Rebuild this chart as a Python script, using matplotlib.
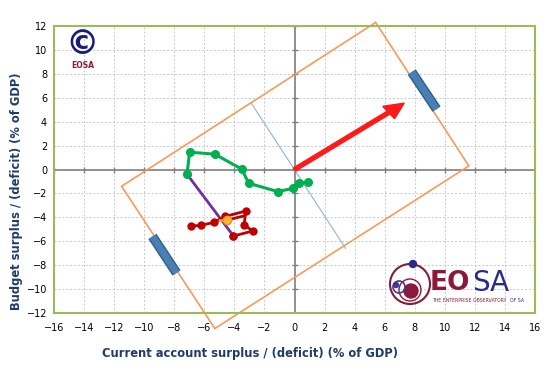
import numpy as np
import matplotlib
matplotlib.use("Agg")
import matplotlib.pyplot as plt
from matplotlib.patches import Circle, Polygon, FancyArrow

# data
red_x = [-6.91, -6.25, -5.36, -4.62, -3.24, -3.35, -2.79, -4.06]
red_y = [-4.72, -4.68, -4.42, -3.93, -3.47, -4.60, -5.15, -5.56]
red2_x = [-4.46, -3.35]
red2_y = [-4.22, -3.88]
orange_x = [-4.95, -4.46]
orange_y = [-4.28, -4.22]
purple_x = [-7.15, -4.06]
purple_y = [-0.40, -5.56]
green_x = [-7.15, -6.98, -5.29, -3.50, -3.05, -1.10, -0.10, 0.30, 0.90]
green_y = [-0.40, 1.45, 1.28, 0.02, -1.15, -1.85, -1.57, -1.10, -1.07]
arrow_end = (7.3, 5.55)
rect_x = [5.4, 11.6, -5.3, -11.5]
rect_y = [12.3, 0.3, -13.3, -1.4]
bar1_x, bar1_y = [7.8, 9.45], [8.15, 5.05]
bar2_x, bar2_y = [-9.45, -7.85], [-5.6, -8.65]
axisline_x, axisline_y = [-2.9, 3.4], [5.6, -6.6]
ticks = np.arange(-16, 17, 2)
yticks = np.arange(-12, 13, 2)

fig = plt.figure(figsize=(5.55, 3.8), dpi=100)
ax = fig.add_axes([54/555, 1-313/380, 481/555, 287/380])
ax.set_xlim(-16, 16)
ax.set_ylim(-12, 12)
ax.set_xticks(ticks)
ax.set_yticks(yticks)
ax.tick_params(length=0, labelsize=7, colors='black')
ax.tick_params(axis='x', pad=7)
ax.tick_params(axis='y', pad=5)
for s in ax.spines.values():
    s.set_color('#9BBB59')
    s.set_linewidth(1.5)
ax.grid(True, color='#C8C8C8', linestyle=(0, (2, 2)), linewidth=0.7)
ax.set_axisbelow(True)

# zero axes with tick marks
ax.axhline(0, color='#808080', lw=1.2, zorder=1)
ax.axvline(0, color='#808080', lw=1.2, zorder=1)
ax.plot(ticks, np.zeros_like(ticks), ls='none', marker='|', ms=5, color='#808080', zorder=1)
ax.plot(np.zeros_like(yticks), yticks, ls='none', marker='_', ms=5, color='#808080', zorder=1)

# orange rectangle and blue pieces
ax.add_patch(Polygon(list(zip(rect_x, rect_y)), closed=True, fill=False,
                     ec='#F79A5A', lw=1.2, clip_on=False, zorder=2))
ax.plot(axisline_x, axisline_y, color='#8FB4DA', lw=0.8, zorder=2)
for bx, by in [(bar1_x, bar1_y), (bar2_x, bar2_y)]:
    ax.plot(bx, by, color='#2F5F8A', lw=7, solid_capstyle='butt', zorder=3)
    ax.plot(bx, by, color='#4A7FB5', lw=5, solid_capstyle='butt', zorder=3)

# series
ax.plot(purple_x, purple_y, color='#7030A0', lw=2, marker='o', ms=5, zorder=4)
ax.plot(red_x, red_y, color='#C00000', lw=2, marker='o', ms=5, zorder=5)
ax.plot(red2_x, red2_y, color='#C00000', lw=2, zorder=5)
ax.plot(orange_x, orange_y, color='#F5A623', lw=2, zorder=6)
ax.plot(orange_x[-1:], orange_y[-1:], ls='none', marker='o', ms=6, color='#F5B833',
        mec='#E89A20', zorder=6)
ax.plot(green_x, green_y, color='#00B050', lw=2.2, marker='o', ms=5.5, zorder=5)

ax.add_patch(FancyArrow(0, 0, arrow_end[0], arrow_end[1], width=0.3, head_width=1.3,
                        head_length=1.3, length_includes_head=True, color='#FF1A1A', zorder=6))

# labels
navy = '#1F3A6E'
fig.text(250/555, 1-354/380, 'Current account surplus / (deficit) (% of GDP)',
         ha='center', va='center', fontsize=8.3, fontweight='bold', color=navy)
fig.text(17/555, 1-191/380, 'Budget surplus / (deficit) (% of GDP)', rotation=90,
         ha='center', va='center', fontsize=8.3, fontweight='bold', color=navy)

# copyright logo
fig.text(82/555, 1-45/380, '\u00a9', ha='center', va='center', fontsize=24,
         fontweight='bold', color='#1B1B7A')
fig.text(83/555, 1-66/380, 'EOSA', ha='center', va='center', fontsize=5.5,
         fontweight='bold', color='#8B1A3A')

# EOSA logo
lax = fig.add_axes([0, 0, 1, 1], facecolor='none')
lax.set_xlim(0, 555)
lax.set_ylim(380, 0)
lax.axis('off')
lax.add_patch(Circle((410, 284), 20, fill=False, ec='#8B1A3A', lw=1.5))
lax.add_patch(Circle((410, 290), 11, fill=False, ec='#8B1A3A', lw=1.0))
lax.add_patch(Circle((411, 291), 7, color='#8B1A3A'))
lax.add_patch(Circle((399, 287), 6, fill=False, ec='#3A3A9A', lw=1.2))
lax.add_patch(Circle((396, 285), 2.5, color='#3A3A9A'))
lax.add_patch(Circle((413, 264), 3.5, color='#2A2A8A'))
lax.text(430, 283, 'EO', ha='left', va='center', fontsize=19, fontweight='bold',
         color='#8B1A3A')
lax.text(472, 283, 'SA', ha='left', va='center', fontsize=20, color='#2A2A8A')
lax.text(432, 301, 'THE ENTERPRISE OBSERVATORY', ha='left', va='center', fontsize=3.3,
         color='#8B1A3A')
lax.text(510, 301, 'OF SA', ha='left', va='center', fontsize=3.3, color='#2A2A8A')

fig.savefig('out.png', dpi=100)
